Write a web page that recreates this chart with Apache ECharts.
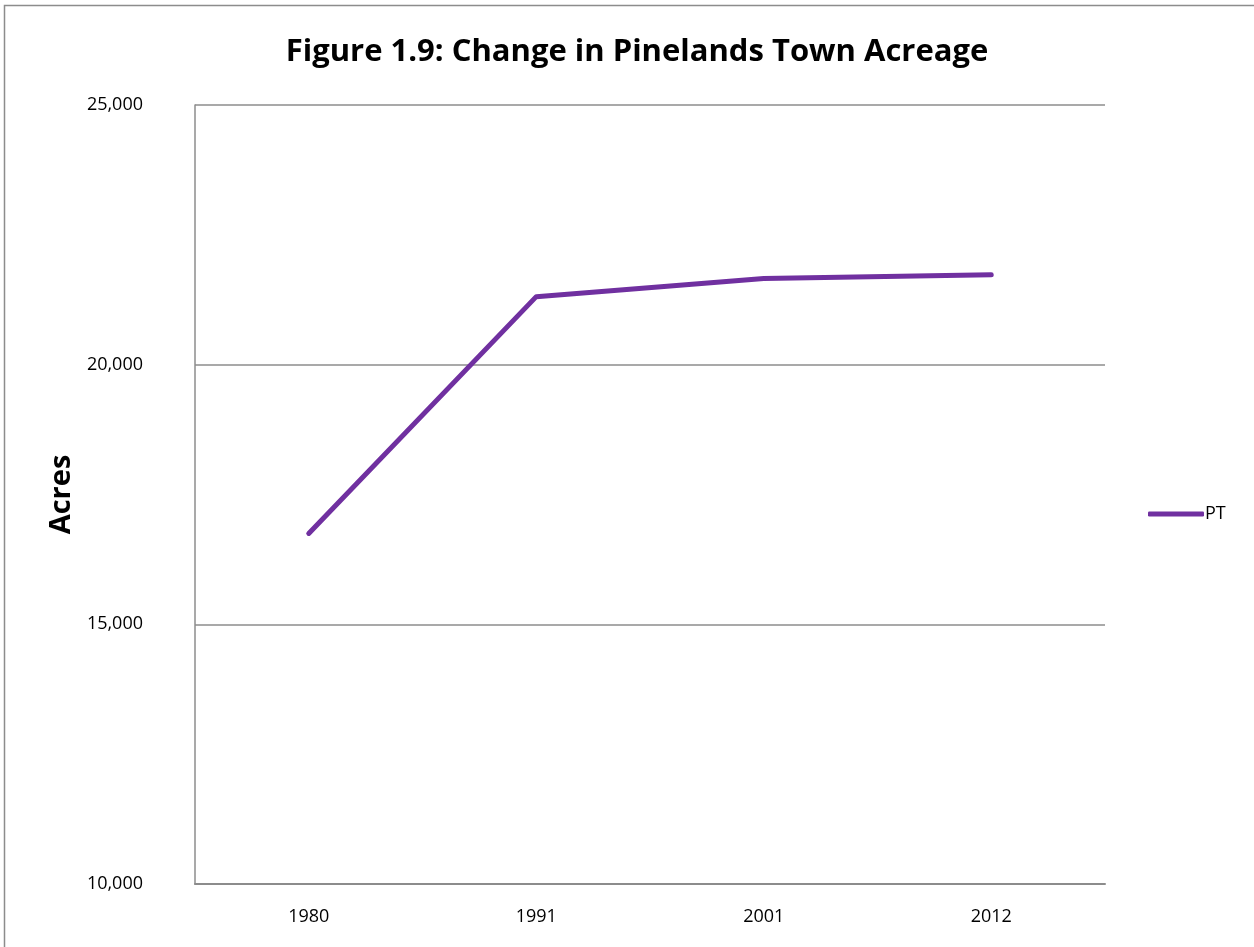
<!DOCTYPE html>
<html>
<head>
<meta charset="utf-8">
<script src="https://cdn.jsdelivr.net/npm/echarts@6/dist/echarts.min.js"></script>
<style>
html, body { margin: 0; padding: 0; background: #fff; }
#chart { width: 1254px; height: 947px; }
</style>
</head>
<body>
<div id="chart"></div>
<script>
// data
var years = ['1980', '1991', '2001', '2012'];
var ptAcres = [16750, 21310, 21660, 21730];
var yTicks = [10000, 15000, 20000, 25000];

var FONT = '"Open Sans", sans-serif';

var chart = echarts.init(document.getElementById('chart'));

function thousand(v) {
	return String(v).replace(/\B(?=(\d{3})+$)/g, ',');
}

chart.setOption({
	animation: false,
	backgroundColor: '#fff',
	title: {
		text: 'Figure 1.9: Change in Pinelands Town Acreage',
		left: 632,
		textAlign: 'center',
		top: 32,
		textStyle: { fontFamily: FONT, fontSize: 31, fontWeight: 'bold', color: '#000' }
	},
	graphic: [{
		type: 'rect',
		shape: { x: 4.5, y: 5.5, width: 1260, height: 960 },
		style: { fill: 'none', stroke: '#8c8c8c', lineWidth: 1.5 },
		silent: true
	}],
	legend: {
		orient: 'vertical',
		left: 1143,
		top: 500,
		icon: 'roundRect',
		itemWidth: 56,
		itemHeight: 5,
		itemGap: 2,
		data: ['PT'],
		textStyle: { fontFamily: FONT, fontSize: 18, color: '#000', padding: [0, 0, 0, -4] }
	},
	grid: { left: 195, right: 149, top: 105, bottom: 63 },
	xAxis: {
		type: 'category',
		data: years,
		boundaryGap: true,
		axisLine: { lineStyle: { color: '#8c8c8c', width: 2 } },
		axisTick: { show: false },
		axisLabel: { fontFamily: FONT, fontSize: 18, color: '#000', margin: 24 }
	},
	yAxis: {
		type: 'value',
		min: yTicks[0],
		max: yTicks[yTicks.length - 1],
		interval: 5000,
		name: 'Acres',
		nameLocation: 'middle',
		nameGap: 112,
		nameRotate: 90,
		nameTextStyle: { fontFamily: FONT, fontSize: 29, fontWeight: 'bold', color: '#000' },
		axisLine: { show: true, lineStyle: { color: '#8c8c8c', width: 1.5 } },
		axisTick: { show: false },
		splitLine: { lineStyle: { color: '#8c8c8c', width: 1.5 } },
		axisLabel: { fontFamily: FONT, fontSize: 18, color: '#000', margin: 52, formatter: thousand }
	},
	series: [{
		name: 'PT',
		type: 'line',
		data: ptAcres,
		symbol: 'none',
		lineStyle: { color: '#7030A0', width: 5, cap: 'round', join: 'round' },
		itemStyle: { color: '#7030A0' }
	}]
});
</script>
</body>
</html>
